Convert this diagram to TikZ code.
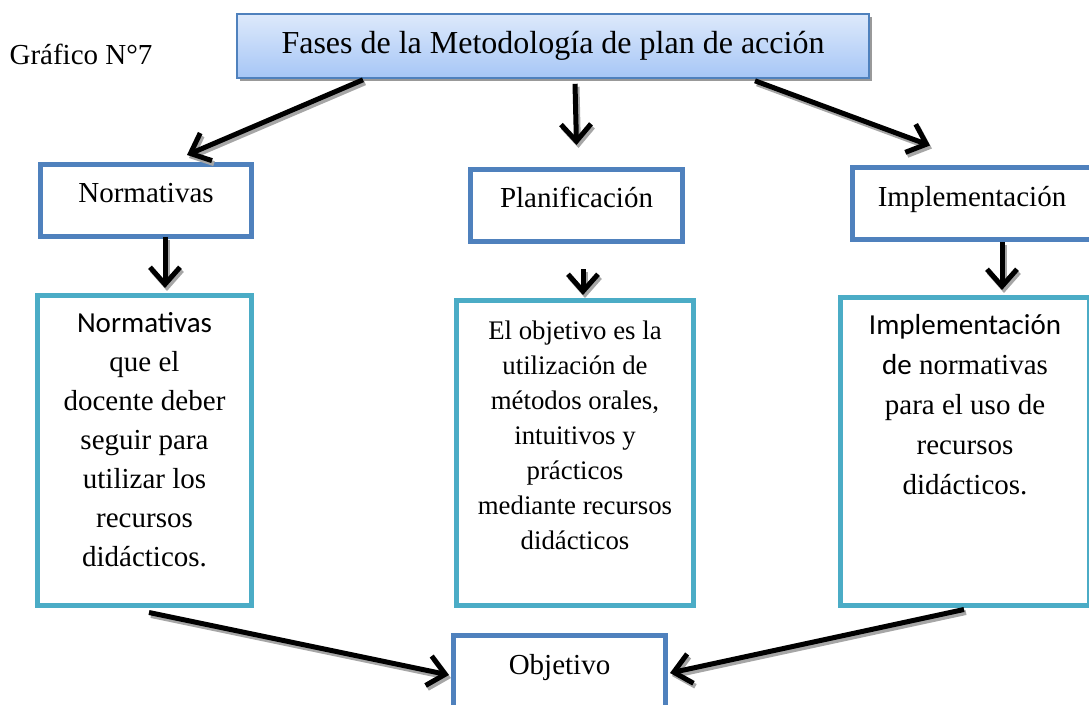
\documentclass[tikz,border=0pt]{standalone}
\usepackage{fontspec}
\setmainfont{Liberation Serif}
\newfontfamily\calibri{Carlito}
\usepackage{tikz}
\usetikzlibrary{arrows.meta, positioning, calc, shadows}

\definecolor{azulborde}{HTML}{4F81BD}
\definecolor{cianborde}{HTML}{4BACC6}
\definecolor{azulclaro}{HTML}{DDE9FB}
\definecolor{azulmedio}{HTML}{A6C6F6}

\begin{document}
\begin{tikzpicture}[x=0.5pt, y=-0.5pt,
    every node/.style={font=\fontsize{14.5}{19.5}\selectfont},
    titulo/.style={draw=azulborde, line width=0.8pt, top color=azulclaro, bottom color=azulmedio,
        minimum width=316pt, minimum height=32pt, font=\fontsize{16}{19}\selectfont,
        drop shadow={shadow xshift=1.5pt, shadow yshift=-1.5pt, fill=black!40, opacity=1}},
    fase/.style={draw=azulborde, line width=2.5pt, minimum height=36pt, text height=12.5pt, text depth=10pt},
    detalle/.style={draw=cianborde, line width=2.5pt, inner sep=0pt},
    flecha/.style={line width=2.5pt, -{Straight Barb[length=8.5pt, width=15pt]},
        preaction={draw=black!35, line width=2.5pt, transform canvas={xshift=1pt, yshift=-1.5pt}}}
]
\useasboundingbox (0,0) rectangle (1089,705);

% titulo
\node (graf) at (81,54) {Gráfico N°7};
\node[titulo] (titulo) at (553,46) {Fases de la Metodología de plan de acción};

% fases
\node[fase, minimum width=105.5pt] (norm) at (146,200.5) {Normativas};
\node[fase, minimum width=106pt] (plan) at (576.5,205.5) {Planificación};
\node[fase, minimum width=119.5pt] (impl) at (972,204) {Implementación};

% detalles
\node[detalle] (dnorm) at (144.5,450.5) {\parbox[c][155pt][t]{107pt}{\centering
    \rule{0pt}{18.75pt}{\calibri Normativas}\\ que el\\ docente deber\\ seguir para\\
    utilizar los\\ recursos\\ didácticos.}};
\node[detalle] (dplan) at (575,453) {\parbox[c][152.5pt][t]{118.5pt}{\centering
    \fontsize{13.4}{17.5}\selectfont
    \rule{0pt}{19.5pt}El objetivo es la\\ utilización de\\ métodos orales,\\ intuitivos y\\
    prácticos\\ mediante recursos\\ didácticos}};
\node[detalle] (dimpl) at (965,451.5) {\parbox[c][154pt][t]{124.5pt}{\centering
    \fontsize{14.5}{20}\selectfont
    \rule{0pt}{18.75pt}{\calibri Implementación}\\ {\calibri de} normativas\\ para el uso de\\
    recursos\\ didácticos.}};

% objetivo
\node[fase, minimum width=106pt] (obj) at (559.5,672) {Objetivo};

% flechas
\draw[flecha] ($(titulo.south)+(-190,1)$) -- ($(norm.north)+(41,-7)$);
\draw[flecha] ($(titulo.south)+(22,5)$) -- ($(plan.north)+(0,-22)$);
\draw[flecha] ($(titulo.south)+(202,2)$) -- ($(impl.north)+(-42,-20)$);
\draw[flecha] ($(norm.south)+(19,-2)$) -- ($(dnorm.north)+(20.5,-5)$);
\draw[flecha] ($(plan.south)+(6.5,25.5)$) -- ($(dplan.north)+(8,-3)$);
\draw[flecha] ($(impl.south)+(30,0)$) -- ($(dimpl.north)+(37,-5)$);
\draw[flecha] ($(dnorm.south)+(4.5,4.5)$) -- ($(obj.west)+(-2,3)$);
\draw[flecha] ($(dimpl.south)+(-1,1.5)$) -- ($(obj.east)+(2,1)$);
\end{tikzpicture}
\end{document}
